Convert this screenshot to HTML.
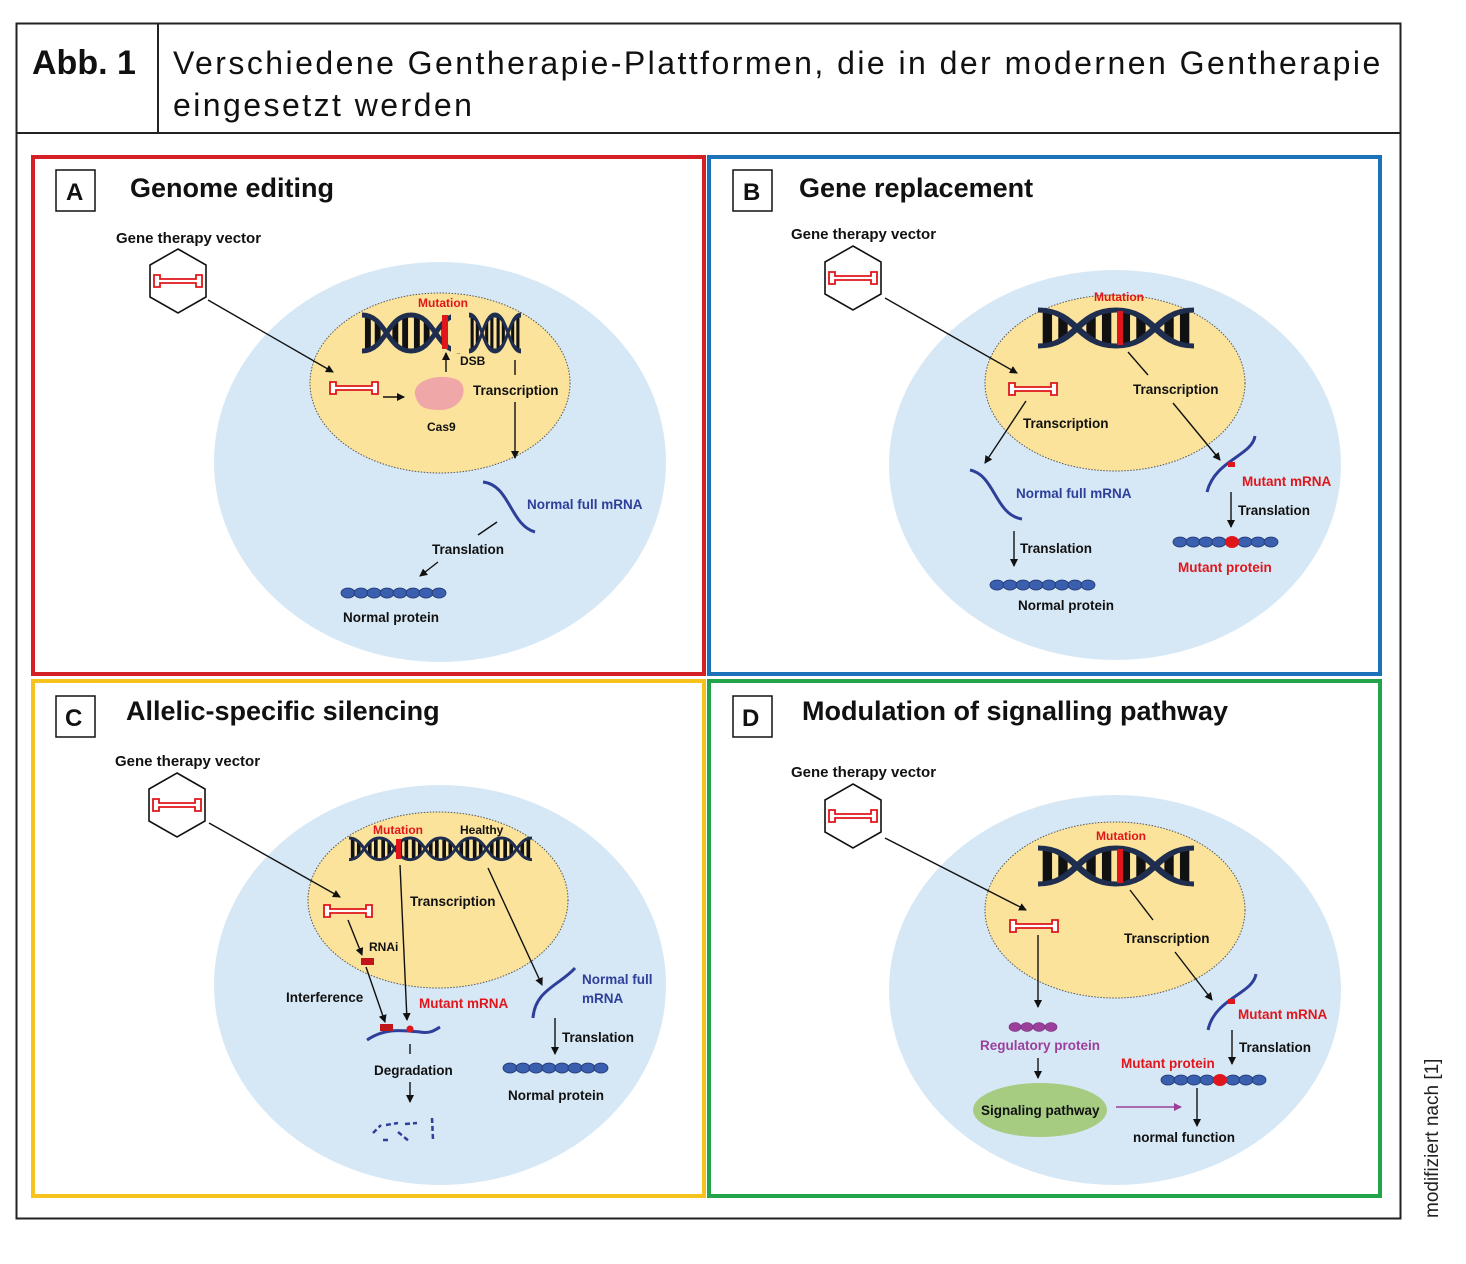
<!DOCTYPE html>
<html><head><meta charset="utf-8"><style>
html,body{margin:0;padding:0;background:#fff;}
svg{display:block;font-family:"Liberation Sans",sans-serif;}
.t{font-weight:bold;font-size:13.5px;fill:#111;}
.r{font-weight:bold;font-size:13.5px;fill:#e0161b;}
.b{font-weight:bold;font-size:13.5px;fill:#2e3f9a;}
.h{font-weight:bold;font-size:27px;fill:#111;}
.l{font-weight:bold;font-size:24px;fill:#111;}
.ar{stroke:#111;stroke-width:1.4;fill:none;marker-end:url(#ah);}
</style></head><body>
<svg width="1466" height="1264" viewBox="0 0 1466 1264" xmlns="http://www.w3.org/2000/svg">
<defs>
<marker id="ah" markerWidth="8" markerHeight="8" refX="7" refY="4" orient="auto" markerUnits="userSpaceOnUse"><path d="M0,0 L8,4 L0,8z" fill="#111"/></marker>
<marker id="ahp" markerWidth="8" markerHeight="8" refX="7" refY="4" orient="auto" markerUnits="userSpaceOnUse"><path d="M0,0 L8,4 L0,8z" fill="#9b3f9b"/></marker>
<g id="dna">
<g stroke="#111" stroke-width="6">
<line x1="6" y1="2" x2="6" y2="34"/><line x1="16" y1="7" x2="16" y2="29"/>
<line x1="34" y1="7" x2="34" y2="29"/><line x1="44" y1="2" x2="44" y2="34"/>
<line x1="56" y1="2" x2="56" y2="34"/><line x1="66" y1="7" x2="66" y2="29"/>
<line x1="84" y1="7" x2="84" y2="29"/><line x1="94" y1="2" x2="94" y2="34"/>
</g>
<path d="M0,0 C25,0 25,36 50,36 C75,36 75,0 100,0" stroke="#1f2d4f" stroke-width="5" fill="none"/>
<path d="M0,36 C25,36 25,0 50,0 C75,0 75,36 100,36" stroke="#1f2d4f" stroke-width="5" fill="none"/>
</g>
<g id="hex"><polygon points="0,-32 28,-16 28,16 0,32 -28,16 -28,-16" fill="#fff" stroke="#111" stroke-width="1.6"/>
<g transform="translate(-26,-8)"><use href="#vec"/></g></g>
<g id="vec"><path d="M2,2 h6 v4 h36 v-4 h6 v12 h-6 v-4 h-36 v4 h-6z" fill="#fff" stroke="#e0161b" stroke-width="1.8"/></g>
<g id="prot" fill="#3a5fae" stroke="#1f3570" stroke-width="0.8">
<ellipse cx="6" cy="0" rx="7" ry="5"/><ellipse cx="19" cy="0" rx="7" ry="5"/><ellipse cx="32" cy="0" rx="7" ry="5"/><ellipse cx="45" cy="0" rx="7" ry="5"/><ellipse cx="58" cy="0" rx="7" ry="5"/><ellipse cx="71" cy="0" rx="7" ry="5"/><ellipse cx="84" cy="0" rx="7" ry="5"/><ellipse cx="97" cy="0" rx="7" ry="5"/></g>
</defs>

<!-- header -->
<rect x="16.5" y="23.5" width="1384" height="1195" fill="none" stroke="#222" stroke-width="2"/>
<line x1="16" y1="133" x2="1400" y2="133" stroke="#222" stroke-width="2"/>
<line x1="158" y1="23" x2="158" y2="133" stroke="#222" stroke-width="2"/>
<text x="32" y="74" style="font-weight:bold;font-size:34px;fill:#111;">Abb. 1</text>
<text x="173" y="74" style="font-size:32px;fill:#111;letter-spacing:2.45px">Verschiedene Gentherapie-Plattformen, die in der modernen Gentherapie</text>
<text x="173" y="116" style="font-size:32px;fill:#111;letter-spacing:2.45px">eingesetzt werden</text>
<text transform="translate(1438,1218) rotate(-90)" style="font-size:19px;fill:#222">modifiziert nach [1]</text>

<!-- panel frames -->
<rect x="33" y="157" width="671" height="517" fill="#fff" stroke="#d51f26" stroke-width="4"/>
<rect x="709" y="157" width="671" height="517" fill="#fff" stroke="#1b72b8" stroke-width="4"/>
<rect x="33" y="681" width="671" height="515" fill="#fff" stroke="#f6c21c" stroke-width="4"/>
<rect x="709" y="681" width="671" height="515" fill="#fff" stroke="#22a54a" stroke-width="4"/>

<!-- labels -->
<rect x="56" y="170" width="39" height="41" fill="#fff" stroke="#111" stroke-width="1.5"/><text x="66" y="200" class="l">A</text>
<rect x="733" y="170" width="39" height="41" fill="#fff" stroke="#111" stroke-width="1.5"/><text x="743" y="200" class="l">B</text>
<rect x="56" y="696" width="39" height="41" fill="#fff" stroke="#111" stroke-width="1.5"/><text x="65" y="726" class="l">C</text>
<rect x="733" y="696" width="39" height="41" fill="#fff" stroke="#111" stroke-width="1.5"/><text x="742" y="726" class="l">D</text>
<text x="130" y="197" class="h">Genome editing</text>
<text x="799" y="197" class="h">Gene replacement</text>
<text x="126" y="720" class="h">Allelic-specific silencing</text>
<text x="802" y="720" class="h">Modulation of signalling pathway</text>

<!-- ===== A ===== -->
<ellipse cx="440" cy="462" rx="226" ry="200" fill="#d6e8f6"/>
<ellipse cx="440" cy="383" rx="130" ry="90" fill="#fbe39b" stroke="#555" stroke-width="1" stroke-dasharray="1.5,1.5"/>
<text x="116" y="243" class="t" style="font-size:15px">Gene therapy vector</text>
<use href="#hex" x="178" y="281"/>
<line x1="208" y1="300" x2="333" y2="372" class="ar"/>
<text x="418" y="307" class="r" style="font-size:12px">Mutation</text>
<use href="#dna" transform="translate(362,315) scale(0.98,1)"/>
<rect x="451" y="311" width="16" height="42" fill="#fbe39b"/>
<rect x="442" y="315" width="6" height="34" fill="#e0161b"/>
<use href="#dna" transform="translate(469,315) scale(0.52,1)"/>
<line x1="446" y1="372" x2="446" y2="353" class="ar"/>
<text x="460" y="365" class="t" style="font-size:12px">DSB</text>
<use href="#vec" x="328" y="380"/>
<line x1="383" y1="397" x2="404" y2="397" class="ar"/>
<path d="M415,395 C412,380 440,372 458,380 C470,388 462,410 440,410 C420,410 418,404 415,395z" fill="#f0a7a8"/>
<text x="427" y="431" class="t" style="font-size:12px">Cas9</text>
<line x1="515" y1="360" x2="515" y2="375" stroke="#111" stroke-width="1.4"/>
<text x="473" y="395" class="t">Transcription</text>
<line x1="515" y1="402" x2="515" y2="458" class="ar"/>
<path d="M483,482 C510,485 510,525 535,532" stroke="#2e3f9a" stroke-width="3" fill="none"/>
<text x="527" y="509" class="b">Normal full mRNA</text>
<line x1="497" y1="522" x2="478" y2="535" stroke="#111" stroke-width="1.4"/>
<text x="432" y="554" class="t">Translation</text>
<line x1="438" y1="562" x2="420" y2="576" class="ar"/>
<use href="#prot" x="342" y="593"/>
<text x="343" y="622" class="t">Normal protein</text>

<!-- ===== B ===== -->
<ellipse cx="1115" cy="465" rx="226" ry="195" fill="#d6e8f6"/>
<ellipse cx="1115" cy="383" rx="130" ry="88" fill="#fbe39b" stroke="#555" stroke-width="1" stroke-dasharray="1.5,1.5"/>
<text x="791" y="239" class="t" style="font-size:15px">Gene therapy vector</text>
<use href="#hex" x="853" y="278"/>
<line x1="885" y1="298" x2="1017" y2="373" class="ar"/>
<text x="1094" y="301" class="r" style="font-size:12px">Mutation</text>
<use href="#dna" transform="translate(1038,310) scale(1.56,1)"/>
<rect x="1117" y="311" width="6" height="34" fill="#e0161b"/>
<use href="#vec" x="1007" y="381"/>
<line x1="1128" y1="352" x2="1148" y2="375" stroke="#111" stroke-width="1.4"/>
<text x="1133" y="394" class="t">Transcription</text>
<line x1="1173" y1="403" x2="1220" y2="460" class="ar"/>
<line x1="1026" y1="401" x2="985" y2="463" class="ar"/>
<text x="1023" y="428" class="t">Transcription</text>
<path d="M970,470 C995,475 995,515 1022,519" stroke="#2e3f9a" stroke-width="3" fill="none"/>
<text x="1016" y="498" class="b">Normal full mRNA</text>
<path d="M1255,436 C1252,456 1215,460 1207,492" stroke="#2e3f9a" stroke-width="3" fill="none"/>
<rect x="1228" y="462" width="7" height="5" fill="#e0161b"/>
<text x="1242" y="486" class="r">Mutant mRNA</text>
<line x1="1231" y1="492" x2="1231" y2="527" class="ar"/>
<text x="1238" y="515" class="t">Translation</text>
<use href="#prot" x="1174" y="542"/>
<ellipse cx="1232" cy="542" rx="7" ry="6" fill="#e0161b"/>
<text x="1178" y="572" class="r">Mutant protein</text>
<line x1="1014" y1="531" x2="1014" y2="566" class="ar"/>
<text x="1020" y="553" class="t">Translation</text>
<use href="#prot" x="991" y="585"/>
<text x="1018" y="610" class="t">Normal protein</text>

<!-- ===== C ===== -->
<ellipse cx="440" cy="985" rx="226" ry="200" fill="#d6e8f6"/>
<ellipse cx="438" cy="900" rx="130" ry="88" fill="#fbe39b" stroke="#555" stroke-width="1" stroke-dasharray="1.5,1.5"/>
<text x="115" y="766" class="t" style="font-size:15px">Gene therapy vector</text>
<use href="#hex" x="177" y="805"/>
<line x1="209" y1="823" x2="340" y2="897" class="ar"/>
<text x="373" y="834" class="r" style="font-size:12px">Mutation</text>
<text x="460" y="834" class="t" style="font-size:12px">Healthy</text>
<use href="#dna" transform="translate(349,838) scale(0.61,0.6)"/>
<use href="#dna" transform="translate(410,838) scale(0.61,0.6)"/>
<use href="#dna" transform="translate(471,838) scale(0.61,0.6)"/>
<rect x="396" y="839" width="5" height="20" fill="#e0161b"/>
<use href="#vec" x="322" y="903"/>
<line x1="348" y1="920" x2="362" y2="955" class="ar"/>
<text x="369" y="951" class="t" style="font-size:12px">RNAi</text>
<rect x="361" y="958" width="13" height="7" fill="#c0161b"/>
<line x1="366" y1="967" x2="385" y2="1022" class="ar"/>
<text x="286" y="1002" class="t">Interference</text>
<line x1="400" y1="865" x2="407" y2="1020" class="ar"/>
<text x="410" y="906" class="t">Transcription</text>
<line x1="488" y1="868" x2="542" y2="985" class="ar"/>
<path d="M367,1040 C385,1028 400,1030 420,1032 C430,1034 435,1030 440,1027" stroke="#2e3f9a" stroke-width="3" fill="none"/>
<rect x="380" y="1024" width="13" height="7" fill="#c0161b"/>
<circle cx="410" cy="1029" r="3.5" fill="#e0161b"/>
<text x="419" y="1008" class="r">Mutant mRNA</text>
<line x1="410" y1="1044" x2="410" y2="1054" stroke="#111" stroke-width="1.4"/>
<text x="374" y="1075" class="t">Degradation</text>
<line x1="410" y1="1082" x2="410" y2="1102" class="ar"/>
<path d="M373,1133 l8,-8 M386,1125 l12,-2 M405,1124 l12,-1 M432,1118 l1,22 M398,1132 l12,10 M383,1140 l6,0" stroke="#2e3f9a" stroke-width="2.5" fill="none" stroke-dasharray="5,3"/>
<path d="M533,1018 C535,990 560,985 575,968" stroke="#2e3f9a" stroke-width="3" fill="none"/>
<text x="582" y="984" class="b">Normal full</text>
<text x="582" y="1003" class="b">mRNA</text>
<line x1="555" y1="1018" x2="555" y2="1054" class="ar"/>
<text x="562" y="1042" class="t">Translation</text>
<use href="#prot" x="504" y="1068"/>
<text x="508" y="1100" class="t">Normal protein</text>

<!-- ===== D ===== -->
<ellipse cx="1115" cy="990" rx="226" ry="195" fill="#d6e8f6"/>
<ellipse cx="1115" cy="910" rx="130" ry="88" fill="#fbe39b" stroke="#555" stroke-width="1" stroke-dasharray="1.5,1.5"/>
<text x="791" y="777" class="t" style="font-size:15px">Gene therapy vector</text>
<use href="#hex" x="853" y="816"/>
<line x1="885" y1="838" x2="1026" y2="910" class="ar"/>
<text x="1096" y="840" class="r" style="font-size:12px">Mutation</text>
<use href="#dna" transform="translate(1038,848) scale(1.56,1)"/>
<rect x="1117" y="849" width="6" height="34" fill="#e0161b"/>
<use href="#vec" x="1008" y="918"/>
<line x1="1038" y1="935" x2="1038" y2="1007" class="ar"/>
<line x1="1130" y1="890" x2="1153" y2="920" stroke="#111" stroke-width="1.4"/>
<text x="1124" y="943" class="t">Transcription</text>
<line x1="1175" y1="952" x2="1212" y2="1000" class="ar"/>
<g fill="#9b3f9b" stroke="#6a2a7a" stroke-width="0.6"><ellipse cx="1015" cy="1027" rx="6" ry="4.5"/><ellipse cx="1027" cy="1027" rx="6" ry="4.5"/><ellipse cx="1039" cy="1027" rx="6" ry="4.5"/><ellipse cx="1051" cy="1027" rx="6" ry="4.5"/></g>
<text x="980" y="1050" style="font-weight:bold;font-size:13.5px;fill:#9b3f9b">Regulatory protein</text>
<line x1="1038" y1="1058" x2="1038" y2="1078" class="ar"/>
<ellipse cx="1040" cy="1110" rx="67" ry="27" fill="#a6cc82"/>
<text x="981" y="1115" class="t">Signaling pathway</text>
<line x1="1116" y1="1107" x2="1181" y2="1107" stroke="#9b3f9b" stroke-width="1.4" marker-end="url(#ahp)"/>
<path d="M1256,974 C1253,994 1215,998 1208,1030" stroke="#2e3f9a" stroke-width="3" fill="none"/>
<rect x="1228" y="999" width="7" height="5" fill="#e0161b"/>
<text x="1238" y="1019" class="r">Mutant mRNA</text>
<line x1="1232" y1="1030" x2="1232" y2="1064" class="ar"/>
<text x="1239" y="1052" class="t">Translation</text>
<text x="1121" y="1068" class="r">Mutant protein</text>
<use href="#prot" x="1162" y="1080"/>
<ellipse cx="1220" cy="1080" rx="7" ry="6" fill="#e0161b"/>
<line x1="1197" y1="1088" x2="1197" y2="1126" class="ar"/>
<text x="1133" y="1142" class="t">normal function</text>
</svg>
</body></html>
